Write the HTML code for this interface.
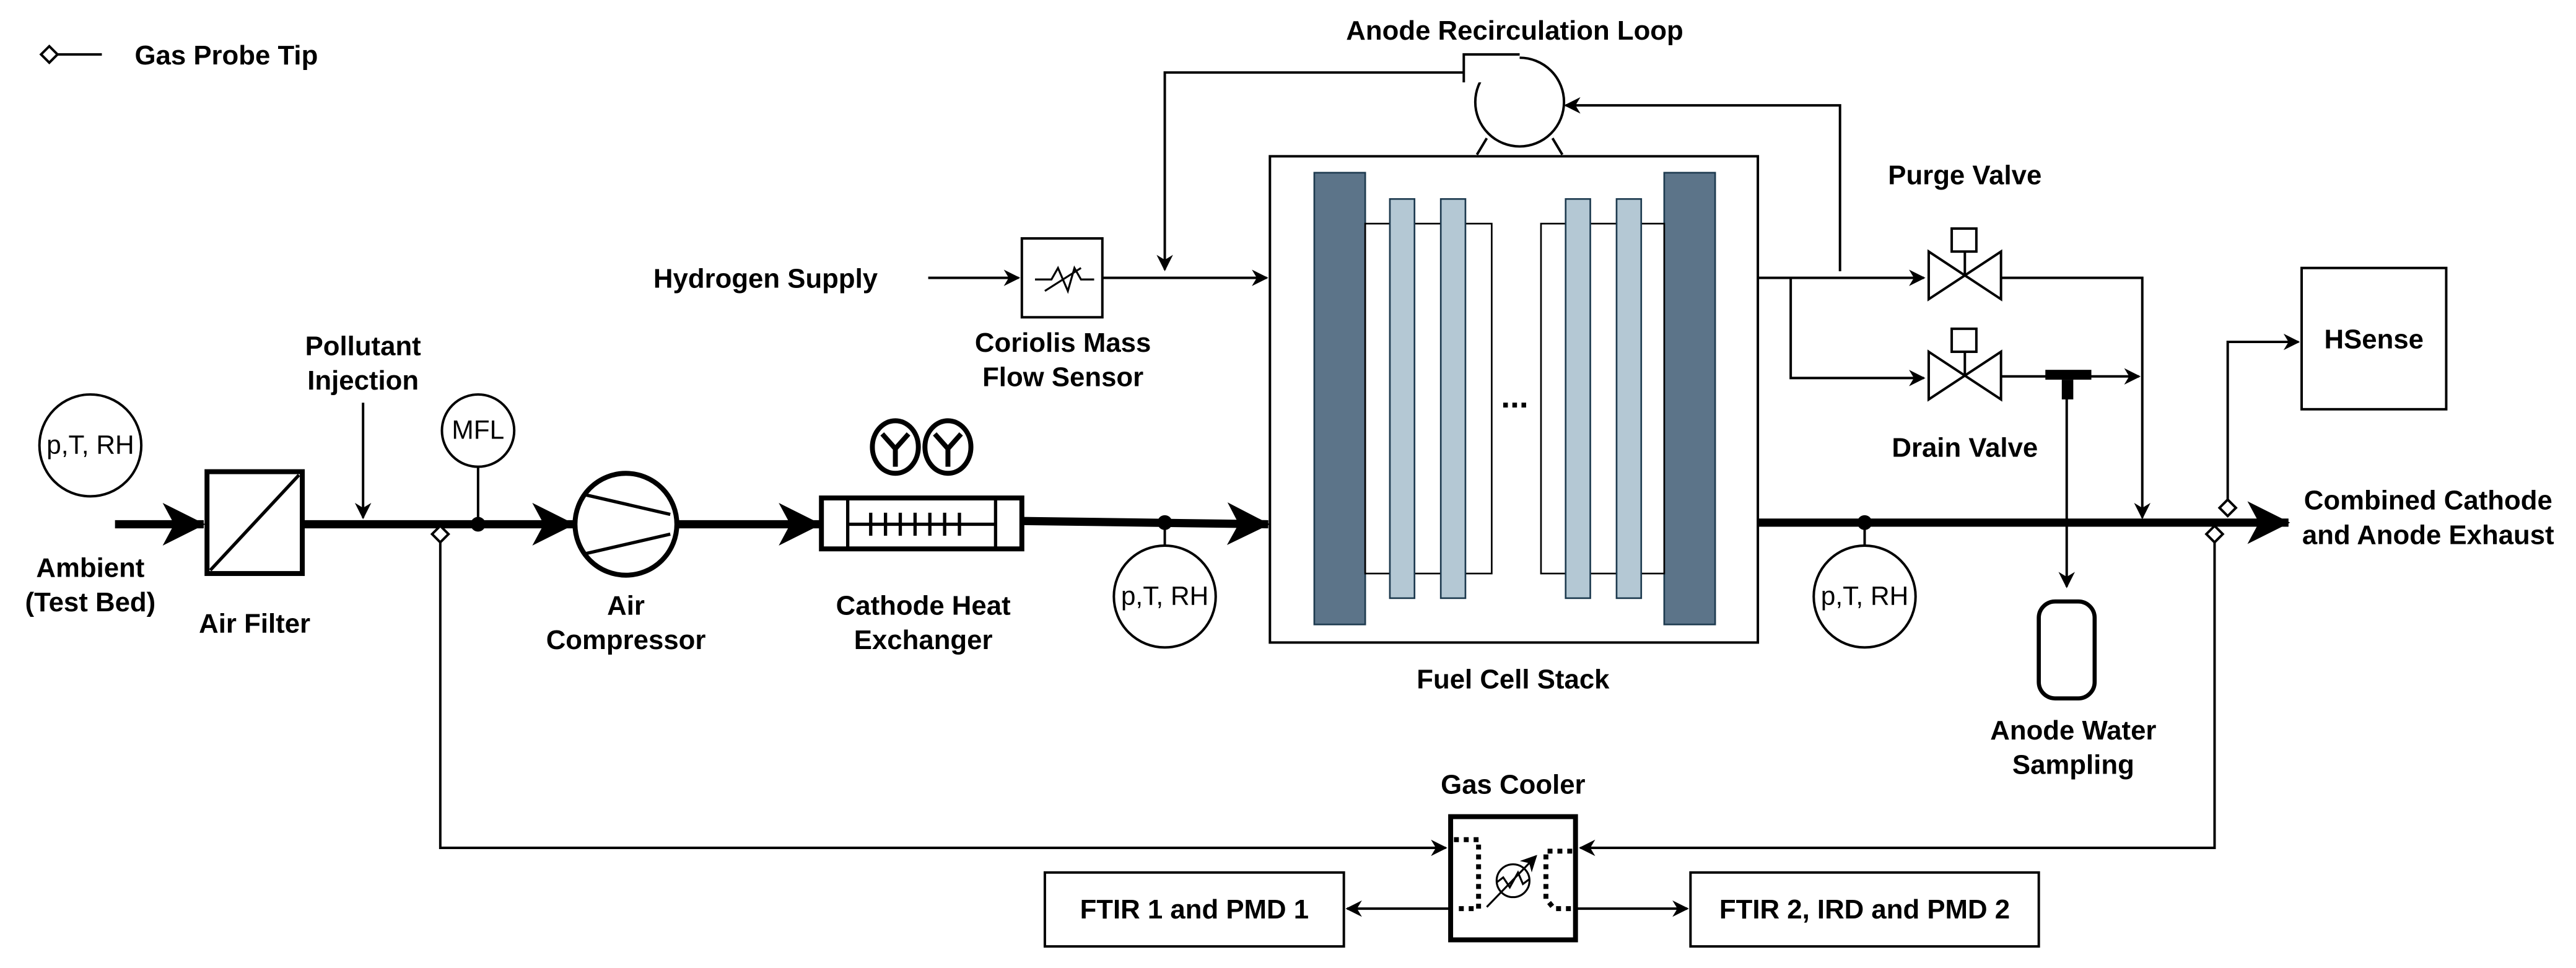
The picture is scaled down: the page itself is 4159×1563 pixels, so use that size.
<!DOCTYPE html>
<html><head><meta charset="utf-8"><style>html,body{margin:0;padding:0;background:#fff}svg{display:block}</style></head>
<body>
<svg width="4159" height="1563" viewBox="0 0 1568 589" xmlns="http://www.w3.org/2000/svg" font-family="Liberation Sans, sans-serif">
<defs>
<marker id="a" markerWidth="10" markerHeight="10" refX="9" refY="5" orient="auto" markerUnits="userSpaceOnUse" viewBox="0 0 10 10"><path d="M0,0 L10,5 L0,10 L3,5 Z" fill="#000"/></marker>
<marker id="b" markerWidth="26" markerHeight="26" refX="25" refY="13" orient="auto" markerUnits="userSpaceOnUse" viewBox="0 0 26 26"><path d="M0,0 L26,13 L0,26 L7,13 Z" fill="#000"/></marker>
</defs>
<g font-weight="bold" font-size="16.5" text-anchor="middle" fill="#000">
<text x="82" y="39" text-anchor="start">Gas Probe Tip</text>
<text x="55" y="351">Ambient</text><text x="55" y="372">(Test Bed)</text>
<text x="155" y="385">Air Filter</text>
<text x="221" y="216">Pollutant</text><text x="221" y="237">Injection</text>
<text x="381" y="374">Air</text><text x="381" y="395">Compressor</text>
<text x="562" y="374">Cathode Heat</text><text x="562" y="395">Exchanger</text>
<text x="466" y="175">Hydrogen Supply</text>
<text x="647" y="214">Coriolis Mass</text><text x="647" y="235">Flow Sensor</text>
<text x="922" y="24">Anode Recirculation Loop</text>
<text x="921" y="419">Fuel Cell Stack</text>
<text x="1196" y="112">Purge Valve</text>
<text x="1196" y="278">Drain Valve</text>
<text x="1262" y="450">Anode Water</text><text x="1262" y="471">Sampling</text>
<text x="1478" y="310">Combined Cathode</text><text x="1478" y="331">and Anode Exhaust</text>
<text x="1445" y="212">HSense</text>
<text x="921" y="483">Gas Cooler</text>
<text x="727" y="559">FTIR 1 and PMD 1</text>
<text x="1135" y="559">FTIR 2, IRD and PMD 2</text>
</g>
<g fill="none" stroke="#000" stroke-width="1.5">
<line x1="34" y1="33" x2="62" y2="33"/>
<path d="M30,28 L35,33 L30,38 L25,33 Z" fill="#fff"/>
<circle cx="55" cy="271" r="31"/>
<circle cx="291" cy="262" r="22"/>
<line x1="291" y1="284" x2="291" y2="319"/>
<circle cx="709" cy="363" r="31"/>
<line x1="709" y1="319" x2="709" y2="332"/>
<circle cx="1135" cy="363" r="31"/>
<line x1="1135" y1="319" x2="1135" y2="332"/>
<line x1="221" y1="245" x2="221" y2="315" marker-end="url(#a)"/>
<polyline points="268,330 268,516 880,516" marker-end="url(#a)"/>
<polyline points="1348,330 1348,516 962,516" marker-end="url(#a)"/>
<polyline points="1356,304 1356,208 1399,208" marker-end="url(#a)"/>
<line x1="565" y1="169" x2="620" y2="169" marker-end="url(#a)"/>
<line x1="671" y1="169" x2="771" y2="169" marker-end="url(#a)"/>
<rect x="622" y="145" width="49" height="48"/>
<polyline points="895,44 709,44 709,164" marker-end="url(#a)"/>
<polyline points="1120,165 1120,64 953,64" marker-end="url(#a)"/>
<line x1="1070" y1="169" x2="1171" y2="169" marker-end="url(#a)"/>
<polyline points="1090,169 1090,230 1171,230" marker-end="url(#a)"/>
<polyline points="1218,169 1304,169 1304,315" marker-end="url(#a)"/>
<line x1="1218" y1="229" x2="1302" y2="229" marker-end="url(#a)"/>
<line x1="1258" y1="240" x2="1258" y2="357" marker-end="url(#a)"/>
<rect x="1241" y="366" width="34" height="59" rx="10" stroke-width="2.5"/>
<path d="M1174,153 L1218,182 L1218,153 L1174,182 Z"/>
<line x1="1196" y1="153" x2="1196" y2="167"/>
<rect x="1188" y="139" width="15" height="14"/>
<path d="M1174,214 L1218,243 L1218,214 L1174,243 Z"/>
<line x1="1196" y1="214" x2="1196" y2="228"/>
<rect x="1188" y="200" width="15" height="14"/>
<rect x="1401" y="163" width="88" height="86"/>
<rect x="636" y="531" width="182" height="45"/>
<rect x="1029" y="531" width="212" height="45"/>
<line x1="883" y1="553" x2="820" y2="553" marker-end="url(#a)"/>
<line x1="959" y1="553" x2="1027" y2="553" marker-end="url(#a)"/>
<rect x="773" y="95" width="297" height="296"/>
</g>
<g stroke="#000" stroke-width="5" fill="none">
<line x1="70" y1="319" x2="124" y2="319" marker-end="url(#b)"/>
<line x1="184" y1="319" x2="349" y2="319" marker-end="url(#b)"/>
<line x1="412" y1="319" x2="499" y2="319" marker-end="url(#b)"/>
<line x1="622" y1="317" x2="772" y2="319" marker-end="url(#b)"/>
<line x1="1070" y1="318" x2="1393" y2="318" marker-end="url(#b)"/>
</g>
<g fill="#000">
<circle cx="291" cy="319" r="4.5"/><circle cx="709" cy="318" r="4.5"/><circle cx="1135" cy="318" r="4.5"/>
<rect x="1245" y="225" width="28" height="6"/><rect x="1255" y="231" width="7" height="12"/>
</g>
<g fill="#fff" stroke="#000" stroke-width="1.5">
<path d="M268,320 L273,325 L268,330 L263,325 Z"/>
<path d="M1348,320 L1353,325 L1348,330 L1343,325 Z"/>
<path d="M1356,304 L1361,309 L1356,314 L1351,309 Z"/>
</g>
<rect x="126" y="287" width="58" height="62" fill="#fff" stroke="#000" stroke-width="3"/>
<line x1="128" y1="347" x2="182" y2="289" stroke="#000" stroke-width="2"/>
<circle cx="381" cy="319" r="31" fill="#fff" stroke="#000" stroke-width="3"/>
<line x1="356" y1="301" x2="408" y2="313" stroke="#000" stroke-width="2"/>
<line x1="356" y1="337" x2="408" y2="325" stroke="#000" stroke-width="2"/>
<g stroke="#000" fill="#fff">
<rect x="500" y="303" width="122" height="31" stroke-width="3"/>
<line x1="516" y1="303" x2="516" y2="334" stroke-width="2"/>
<line x1="606" y1="303" x2="606" y2="334" stroke-width="2"/>
<line x1="516" y1="319" x2="606" y2="319" stroke-width="2"/>
<path d="M530,312v14M539,312v14M548,312v14M557,312v14M566,312v14M575,312v14M584,312v14" stroke-width="2"/>
<ellipse cx="545" cy="272" rx="14" ry="16" stroke-width="3"/>
<ellipse cx="577" cy="272" rx="14" ry="16" stroke-width="3"/>
<path d="M537,264 L545,273 L553,264 M545,273 V284 M569,264 L577,273 L585,264 M577,273 V284" stroke-width="3" fill="none"/>
</g>
<path d="M630,170 H640 L644,163 L650,177 L654,163 L658,170 H666 M636,177 L658,163" stroke="#000" stroke-width="1.2" fill="none"/>
<g stroke="#000" stroke-width="1.5" fill="#fff">
<path d="M905,84 L899,94 M945,84 L951,94"/>
<circle cx="925" cy="62" r="27"/>
<path d="M891,33 H925 V50 H891 Z" stroke="none"/>
<path d="M891,50 V33 H925"/>
</g>
<g stroke="#1d3a4f" stroke-width="1">
<rect x="800" y="105" width="31" height="275" fill="#5c7489"/>
<rect x="1013" y="105" width="31" height="275" fill="#5c7489"/>
<rect x="831" y="136" width="77" height="213" fill="#fff" stroke="#000"/>
<rect x="938" y="136" width="75" height="213" fill="#fff" stroke="#000"/>
<rect x="846" y="121" width="15" height="243" fill="#b4c8d4"/>
<rect x="877" y="121" width="15" height="243" fill="#b4c8d4"/>
<rect x="953" y="121" width="15" height="243" fill="#b4c8d4"/>
<rect x="984" y="121" width="15" height="243" fill="#b4c8d4"/>
</g>
<text x="922" y="248" text-anchor="middle" font-size="20" font-weight="bold">...</text>
<rect x="883" y="497" width="76" height="75" fill="#fff" stroke="#000" stroke-width="3"/>
<g stroke="#000" stroke-width="3" stroke-dasharray="3,3" fill="none">
<polyline points="885,511 900,511 900,553 885,553"/>
<polyline points="957,518 941,518 941,547 946,553 957,553"/>
</g>
<circle cx="921" cy="536" r="10" fill="none" stroke="#000" stroke-width="1.2"/>
<path d="M911,537 L915,534 L919,540 L924,531 L927,538 L931,535" fill="none" stroke="#000" stroke-width="1.2"/>
<line x1="905" y1="552" x2="935" y2="521" stroke="#000" stroke-width="1.2" marker-end="url(#a)"/>
<g font-size="16" text-anchor="middle" fill="#000">
<text x="55" y="276">p,T, RH</text>
<text x="291" y="267">MFL</text>
<text x="709" y="368">p,T, RH</text>
<text x="1135" y="368">p,T, RH</text>
</g>
</svg>
</body></html>
